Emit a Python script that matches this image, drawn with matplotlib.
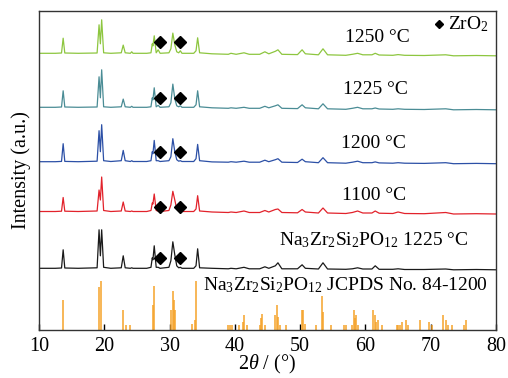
import matplotlib
matplotlib.use("Agg")
import matplotlib.pyplot as plt

plt.rcParams['font.family'] = ['Liberation Serif', 'DejaVu Serif']
plt.rcParams['mathtext.fontset'] = 'custom'
plt.rcParams['mathtext.rm'] = 'Liberation Serif'
plt.rcParams['mathtext.it'] = 'Liberation Serif:italic'
plt.rcParams['mathtext.bf'] = 'Liberation Serif:bold'

# shared 2theta grid (degrees)
two_theta = [10.0, 12.5, 13.45, 13.7, 13.95, 16.0, 18.9, 19.2, 19.4, 19.6,
             19.9, 21.0, 22.6, 22.9, 23.2, 24.0, 24.2, 24.4, 26.5, 27.15,
             27.35, 27.45, 27.65, 27.95, 28.25, 28.55, 29.9, 30.2, 30.5, 30.8,
             31.1, 31.4, 31.65, 31.9, 33.7, 34.05, 34.3, 34.6, 36.5, 39.0,
             39.4, 40.2, 41.4, 42.2, 43.8, 44.6, 45.2, 46.2, 46.6, 47.2,
             49.6, 50.3, 50.8, 52.8, 53.5, 54.2, 57.0, 58.0, 58.8, 59.6,
             61.0, 61.5, 62.1, 64.2, 65.0, 66.0, 69.0, 72.3, 73.5, 77.0, 80.0]

# intensities (a.u.)
i_1250 = [2.5, 2.5, 2.8, 17.6, 2.8, 2.5, 2.8, 31, 12, 36,
          3, 2.5, 3, 10.7, 3, 2.5, 4, 2.5, 2.5, 3,
          12, 10, 20, 3, 6, 2.5, 3, 7, 22.7, 11,
          4, 3, 5, 2.5, 2.5, 5, 18, 3, 2, 1.5,
          2.5, 1.5, 3, 1.5, 1.5, 4, 2, 4.5, 6, 1.5,
          1.2, 6, 2, 1, 7, 1, 0.5, 1.5, 2.5, 1,
          1, 2.5, 0.8, 0.5, 1.2, 0.5, 0.3, 1, 0, 0.3, 0]
i_1225 = [2.5, 2.5, 2.8, 19, 2.8, 2.5, 2.8, 33, 12, 40,
          3, 2.5, 3, 10.7, 3, 2.5, 3.5, 2.5, 2.5, 3,
          12, 10, 22, 3, 4.5, 2.5, 3, 7, 25.7, 11,
          4, 3, 4, 2.5, 2.5, 5, 19, 3, 2, 1.5,
          2, 1.5, 2.5, 1.5, 1.5, 3.5, 2, 4, 5, 1.5,
          1.2, 5, 2, 1, 6, 1, 0.5, 1.5, 2.5, 1,
          1, 1.8, 0.8, 0.5, 1, 0.5, 0.3, 1, 0, 0.3, 0]
i_1200 = [2.0, 2.0, 2.3, 20, 2.3, 2.0, 2.5, 33, 12, 39,
          3, 2.2, 3, 13.3, 3, 2.2, 3, 2.2, 2.2, 3,
          12, 10, 23.3, 3, 3, 2.2, 3, 7, 25, 12,
          4, 2.5, 3, 2.2, 2.2, 5, 19.3, 3, 1.8, 1.5,
          2, 1.5, 2.5, 1.5, 1.5, 3.5, 2, 4, 5, 1.5,
          1.2, 4.5, 2, 1, 6, 1, 0.5, 1.5, 2.5, 1,
          1, 1.8, 0.8, 0.5, 1, 0.5, 0.3, 1, 0, 0.3, 0]
i_1100 = [2.5, 2.5, 2.8, 16.5, 2.8, 2.5, 3, 24, 14, 37,
          3.5, 2.5, 3, 12, 3, 2.5, 3, 2.5, 2.5, 3.5,
          11, 10, 20, 3.5, 3, 2.5, 3.5, 9, 22.7, 14,
          5, 3, 3, 2.5, 2.5, 5, 18.3, 3, 2, 1.5,
          2, 1.5, 3, 1.5, 1.5, 3.5, 2, 4.5, 5, 1.5,
          1.2, 4.5, 2, 1, 6, 1, 0.5, 1.5, 3, 1,
          1, 3, 0.8, 0.5, 2, 0.5, 0.3, 1.5, 0, 0.3, 0]
i_nzsp = [1.5, 1.5, 1.8, 20, 1.8, 1.5, 2, 40, 14, 40,
          2.5, 1.5, 2, 14, 2, 1.5, 2, 1.5, 1.5, 2.5,
          12, 10, 24, 2.5, 2.5, 1.5, 2.5, 9, 28, 15,
          4, 2, 2.5, 1.5, 1.5, 4, 21, 2, 1.5, 1,
          1.5, 1, 2.5, 1, 1, 3, 1.5, 4, 7, 1,
          1, 5, 1.5, 0.8, 7, 0.8, 0.5, 1, 2, 0.8,
          0.8, 4, 0.5, 0.5, 1, 0.3, 0.3, 0.8, 0, 0.3, 0]

patterns = [i_1250, i_1225, i_1200, i_1100, i_nzsp]
offsets = [274.2, 220.2, 166.3, 116.0, 60.2]
colors = ['#8DC63F', '#4A8C95', '#2C50A6', '#E2222B', '#1A1A1A']
labels = ['1250 °C', '1225 °C', '1200 °C', '1100 °C',
          'Na$_3$Zr$_2$Si$_2$PO$_{12}$ 1225 °C']
label_xy = [(61.8, 292), (61.6, 240), (61.3, 187), (61.3, 134), (61.3, 90)]

# ZrO2 markers
zro2_pos = [28.5, 31.65]
zro2_h = [14, 12, 11.4, 7.3, 12]

# reference JCPDS 84-1200 sticks
ref_pos = [13.6, 19.15, 19.45, 22.8, 23.4, 23.9, 27.4, 27.6, 30.2, 30.45,
           30.65, 30.85, 33.4, 33.9, 34.1, 38.9, 39.2, 39.5, 40.6, 41.2,
           41.4, 41.9, 43.8, 44.0, 44.2, 44.6, 46.1, 46.4, 46.6, 46.9,
           47.9, 50.25, 50.5, 50.75, 52.4, 53.35, 53.5, 54.7, 56.7, 57.0,
           58.0, 58.2, 58.4, 58.6, 58.9, 61.1, 61.4, 61.6, 62.0, 62.5,
           64.8, 65.0, 65.3, 65.6, 66.2, 66.5, 68.4, 69.7, 70.2, 71.9,
           72.3, 72.6, 73.2, 75.1, 75.4]
ref_int = [30, 43, 49, 20, 5, 5, 25, 44, 20, 39,
           30, 20, 6, 10, 49, 5, 5, 5, 5, 8,
           15, 5, 5, 12, 16, 5, 15, 25, 13, 5,
           5, 20, 20, 6, 5, 34, 18, 5, 5, 5,
           5, 20, 12, 15, 5, 20, 15, 8, 10, 5,
           5, 5, 5, 8, 10, 5, 10, 8, 5, 15,
           10, 5, 5, 5, 10]

fig = plt.figure(figsize=(5.08, 3.78), dpi=100)
ax = fig.add_axes([39/508, 48/378, 457/508, 319/378])

for y, off, c in zip(patterns, offsets, colors):
    ax.plot(two_theta, [v + off for v in y], color=c, lw=0.9)

for h, off in zip(zro2_h, offsets):
    ax.plot(zro2_pos, [off + h] * len(zro2_pos), 'D', color='black', ms=6,
            mec='black')

ax.vlines(ref_pos, 0, ref_int, colors='#F5A32A', lw=1.1)

for lab, (x, y) in zip(labels, label_xy):
    ax.text(x, y, lab, ha='center', va='center', fontsize=14)
ax.text(56.9, 45, 'Na$_3$Zr$_2$Si$_2$PO$_{12}$ JCPDS No. 84-1200',
        ha='center', va='center', fontsize=14)

# legend
ax.plot([71.3], [306], 'D', color='black', ms=4.5)
ax.text(72.6, 306, 'ZrO$_2$', ha='left', va='center', fontsize=14)

ax.set_xlim(10, 80)
ax.set_ylim(0, 319)
ax.set_xticks(range(10, 81, 10))
ax.set_yticks([])
ax.tick_params(axis='x', direction='in', length=4, width=1, labelsize=14.5,
               pad=5)
for s in ax.spines.values():
    s.set_linewidth(1.0)
    s.set_color('#333333')
ax.set_xlabel('2$\\theta$ / (°)', fontsize=14.5, labelpad=-2)
ax.set_ylabel('Intensity (a.u.)', fontsize=14.5, labelpad=6)

fig.savefig('out.png', dpi=100)
